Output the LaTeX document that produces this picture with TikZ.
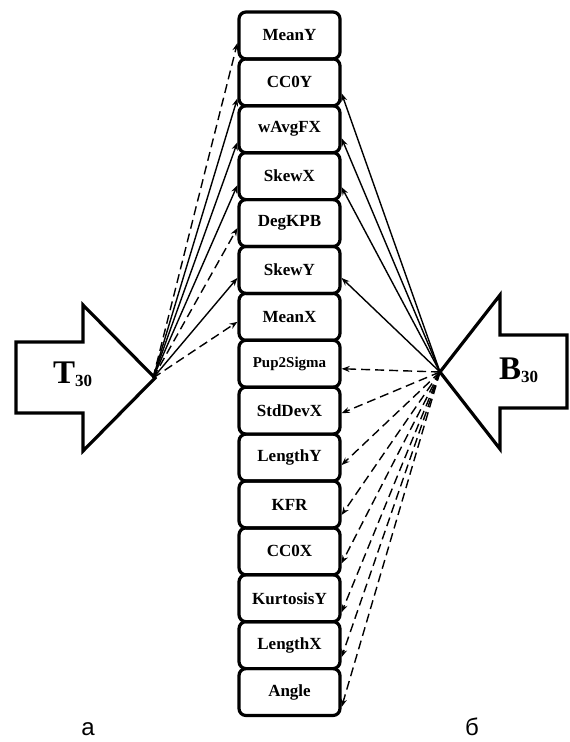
\documentclass[tikz,border=0pt]{standalone}
\usepackage{fontspec}
\setmainfont{Liberation Serif}
\newfontfamily\lsans{Liberation Sans}
\usetikzlibrary{arrows.meta}
\begin{document}
\begin{tikzpicture}[x=1pt,y=-1pt,
  box/.style={draw,line width=3.2pt,rounded corners=7pt,minimum width=101pt,minimum height=46.9pt,inner sep=0pt,font=\fontsize{17}{17}\selectfont\bfseries},
  blockarrow/.style={draw,line width=3.2pt,line join=miter},
  conn/.style={line width=1.4pt,-{Stealth[length=8pt,width=6pt]}},
  dconn/.style={conn,dash pattern=on 9pt off 5pt},
  lbl/.style={anchor=base,font=\lsans\fontsize{24}{24}\selectfont}]
\path[use as bounding box] (0,0) rectangle (570,742);
% block arrows
\draw[blockarrow] (16,342) -- (83,342) -- (83,305) -- (155,378) -- (83,451) -- (83,413) -- (16,413) -- cycle;
\draw[blockarrow] (567,335) -- (500,335) -- (500,295) -- (440,372) -- (500,449) -- (500,408) -- (567,408) -- cycle;
\node[anchor=base west,inner sep=0pt] (tlab) at (53,383) {\fontsize{33}{33}\selectfont\bfseries T\raisebox{-3pt}{\fontsize{17}{17}\selectfont 30}};
\node[anchor=base west,inner sep=0pt] (blab) at (499,379) {\fontsize{33}{33}\selectfont\bfseries B\raisebox{-3pt}{\fontsize{17}{17}\selectfont 30}};
\coordinate (L) at (153,378);
\coordinate (R) at (440,372);
% boxes
\node[box] (b1) at (289.5,35.45) {MeanY};
\node[box] (b2) at (289.5,82.35) {CC0Y};
\node[box] (b3) at (289.5,129.25) {wAvgFX};
\node[box] (b4) at (289.5,176.15) {SkewX};
\node[box] (b5) at (289.5,223.05) {DegKPB};
\node[box] (b6) at (289.5,269.95) {SkewY};
\node[box] (b7) at (289.5,316.85) {MeanX};
\node[box,font=\fontsize{15}{15}\selectfont\bfseries] (b8) at (289.5,363.75) {Pup2Sigma};
\node[box] (b9) at (289.5,410.65) {StdDevX};
\node[box] (b10) at (289.5,457.55) {LengthY};
\node[box] (b11) at (289.5,504.45) {KFR};
\node[box] (b12) at (289.5,551.35) {CC0X};
\node[box] (b13) at (289.5,598.25) {KurtosisY};
\node[box] (b14) at (289.5,645.15) {LengthX};
\node[box] (b15) at (289.5,692.05) {Angle};
% left connectors
\draw[dconn] (L) -- ([yshift=-7.5pt]b1.west);
\draw[conn] (L) -- ([yshift=-16pt]b2.west);
\draw[conn] (L) -- ([yshift=-13pt]b3.west);
\draw[conn] (L) -- ([yshift=-9pt]b4.west);
\draw[dconn] (L) -- ([yshift=-5pt]b5.west);
\draw[conn] (L) -- ([yshift=-8pt]b6.west);
\draw[dconn] (L) -- ([yshift=-5pt]b7.west);
% right connectors
\draw[conn] (R) -- ([yshift=-11pt]b2.east);
\draw[conn] (R) -- ([yshift=-9pt]b3.east);
\draw[conn] (R) -- ([yshift=-11pt]b4.east);
\draw[conn] (R) -- ([yshift=-8pt]b6.east);
\draw[dconn] (R) -- ([yshift=-5pt]b8.east);
\draw[dconn] (R) -- ([yshift=-2.5pt]b9.east);
\draw[dconn] (R) -- ([yshift=-7.5pt]b10.east);
\draw[dconn] (R) -- ([yshift=-10.5pt]b11.east);
\draw[dconn] (R) -- ([yshift=-12pt]b12.east);
\draw[dconn] (R) -- ([yshift=-14pt]b13.east);
\draw[dconn] (R) -- ([yshift=-12pt]b14.east);
\draw[dconn] (R) -- ([yshift=-15pt]b15.east);
% captions
\node[lbl] (capa) at (88,735) {а};
\node[lbl] (capb) at (472,735) {б};
\end{tikzpicture}
\end{document}
